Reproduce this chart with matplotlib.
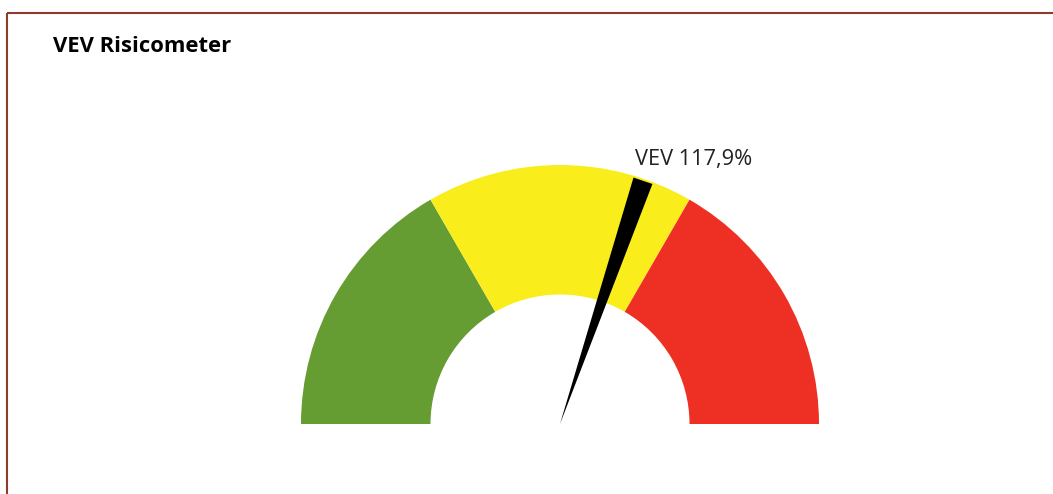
import matplotlib

matplotlib.use("Agg")
import matplotlib.pyplot as plt
import numpy as np
from matplotlib.patches import Polygon, Wedge

# gauge scale and bands
scale_min = 0.0
scale_max = 195.0
band_edges = [0.0, 65.0, 130.0, 195.0]
band_colors = ["#659d32", "#f9ee1c", "#ee3024"]
value = 117.9
value_label = "VEV 117,9%"
title = "VEV Risicometer"

W, H = 1053, 494
CX, CY = 560, H - 424
R_OUT, R_IN = 259, 129.5
NEEDLE_LEN = 257
NEEDLE_HALF = 10


def to_angle(v):
    frac = (v - scale_min) / (scale_max - scale_min)
    return 180.0 - frac * 180.0


fig = plt.figure(figsize=(W / 100, H / 100), dpi=100)
ax = fig.add_axes([0, 0, 1, 1])
ax.set_xlim(0, W)
ax.set_ylim(0, H)
ax.set_aspect("equal")
ax.axis("off")

for lo, hi, color in zip(band_edges[:-1], band_edges[1:], band_colors):
    ax.add_patch(
        Wedge((CX, CY), R_OUT, to_angle(hi), to_angle(lo), width=R_OUT - R_IN,
              facecolor=color, edgecolor="none")
    )

a = np.deg2rad(to_angle(value))
d = np.array([np.cos(a), np.sin(a)])
p = np.array([-np.sin(a), np.cos(a)])
end = np.array([CX, CY]) + d * NEEDLE_LEN
ax.add_patch(Polygon([[CX, CY], end + p * NEEDLE_HALF, end - p * NEEDLE_HALF],
                     closed=True, facecolor="black", edgecolor="none", zorder=3))

ax.text(635, H - 159, value_label, ha="left", va="center", fontsize=15.7,
        family="Open Sans", color="#222222")
ax.text(53, H - 47, title, ha="left", va="center", fontsize=15.8,
        family="Open Sans", fontweight="bold", color="black")

# frame
ax.plot([7, W], [H - 13, H - 13], color="#8e3b2e", linewidth=1.5, solid_capstyle="butt")
ax.plot([7, 7], [H - 13, 0], color="#8e3b2e", linewidth=1.5, solid_capstyle="butt")

fig.savefig("out.png", dpi=100)
